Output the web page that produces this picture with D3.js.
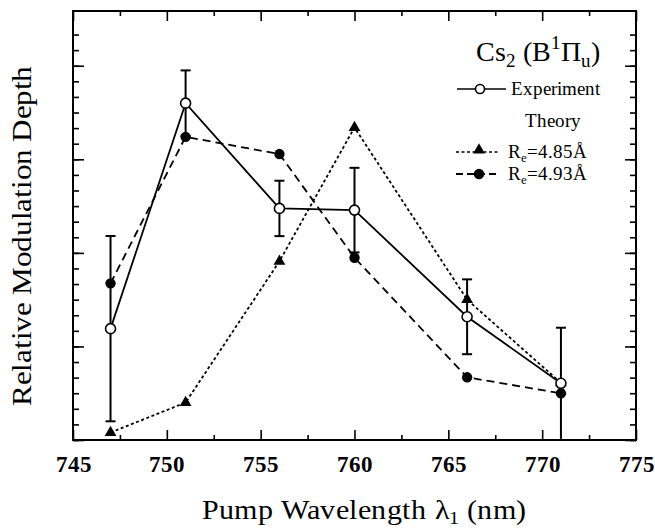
<!DOCTYPE html>
<html><head><meta charset="utf-8">
<script src="https://cdn.jsdelivr.net/npm/d3@7/dist/d3.min.js"></script>
<style>
@font-face { font-family: "RefSerif"; font-weight: normal; src: local("Liberation Serif"), local("LiberationSerif"), local("Tinos"); }
@font-face { font-family: "RefSerif"; font-weight: bold; src: local("Liberation Serif Bold"), local("LiberationSerif-Bold"), local("Tinos Bold"); }
svg text { font-family: "RefSerif", "Liberation Serif", "Times New Roman", serif !important; }
</style>
</head><body style="margin:0">
<svg id="chart" width="655" height="529"></svg>
<script>
// ---- Data ----
const wavelengths = [747, 751, 756, 760, 766, 771];
const experiment = [1.19, 3.60, 2.475, 2.457, 1.317, 0.606];
const experimentErr = [0.99, 0.35, 0.296, 0.452, 0.40, 0.594];
const theory485 = [0.08, 0.40, 1.91, 3.34, 1.50, 0.61];
const theory493 = [1.674, 3.24, 3.056, 1.948, 0.670, 0.499];
const xTicks = [745, 750, 755, 760, 765, 770, 775];
const xMinorTicks = [747.5, 752.5, 757.5, 762.5, 767.5, 772.5];
const yMajorTicks = [0, 1, 2, 3, 4];
const yMinorTicks = d3.range(0, 27).map(i => i / 6);

const FONT = "RefSerif, Liberation Serif, serif";
const svg = d3.select("#chart");
const L = 73, R = 636, T = 11, B = 440;
const x = d3.scaleLinear().domain([745, 775]).range([L, R]);
const y = d3.scaleLinear().domain([0, 4.585]).range([B, T]);

// ---- Axes ----
function styleAxis(g) {
  g.attr("font-family", FONT);
  g.select(".domain").remove();
  g.selectAll(".tick line").attr("stroke", "#000").attr("stroke-width", 1.6);
}
svg.append("g").attr("transform", `translate(0,${B})`)
  .call(d3.axisBottom(x).tickValues(xTicks).tickSizeInner(-10).tickSizeOuter(0).tickPadding(16).tickFormat(d3.format("d")))
  .call(styleAxis)
  .call(g => g.selectAll("text").attr("font-family", FONT).attr("font-size", 23)
    .attr("font-weight", "bold").attr("fill", "#000"));
svg.append("g").attr("transform", `translate(0,${B})`)
  .call(d3.axisBottom(x).tickValues(xMinorTicks).tickSizeInner(-5).tickSizeOuter(0).tickFormat(""))
  .call(styleAxis);
svg.append("g").attr("transform", `translate(0,${T})`)
  .call(d3.axisTop(x).tickValues(xTicks).tickSizeInner(-10).tickSizeOuter(0).tickFormat(""))
  .call(styleAxis);
svg.append("g").attr("transform", `translate(0,${T})`)
  .call(d3.axisTop(x).tickValues(xMinorTicks).tickSizeInner(-5).tickSizeOuter(0).tickFormat(""))
  .call(styleAxis);
svg.append("g").attr("transform", `translate(${L},0)`)
  .call(d3.axisLeft(y).tickValues(yMajorTicks).tickSizeInner(-11).tickSizeOuter(0).tickFormat(""))
  .call(styleAxis);
svg.append("g").attr("transform", `translate(${L},0)`)
  .call(d3.axisLeft(y).tickValues(yMinorTicks).tickSizeInner(-6).tickSizeOuter(0).tickFormat(""))
  .call(styleAxis);
svg.append("g").attr("transform", `translate(${R},0)`)
  .call(d3.axisRight(y).tickValues(yMajorTicks).tickSizeInner(-11).tickSizeOuter(0).tickFormat(""))
  .call(styleAxis);
svg.append("g").attr("transform", `translate(${R},0)`)
  .call(d3.axisRight(y).tickValues(yMinorTicks).tickSizeInner(-6).tickSizeOuter(0).tickFormat(""))
  .call(styleAxis);

svg.append("rect").attr("x", L).attr("y", T).attr("width", R - L).attr("height", B - T)
  .attr("fill", "none").attr("stroke", "#000").attr("stroke-width", 2);

// ---- Series ----
const line = d3.line().x(d => x(d[0])).y(d => y(d[1]));
const pts = vals => wavelengths.map((w, i) => [w, vals[i]]);

const eb = svg.append("g").attr("stroke", "#000").attr("stroke-width", 2);
wavelengths.forEach((w, i) => {
  const lo = Math.max(0, experiment[i] - experimentErr[i]);
  const hi = experiment[i] + experimentErr[i];
  eb.append("line").attr("x1", x(w)).attr("x2", x(w)).attr("y1", y(lo)).attr("y2", y(hi));
  eb.append("line").attr("x1", x(w) - 5).attr("x2", x(w) + 5).attr("y1", y(hi)).attr("y2", y(hi));
  if (experiment[i] - experimentErr[i] > 0.02)
    eb.append("line").attr("x1", x(w) - 5).attr("x2", x(w) + 5).attr("y1", y(lo)).attr("y2", y(lo));
});

svg.append("path").datum(pts(theory485)).attr("d", line)
  .attr("fill", "none").attr("stroke", "#000").attr("stroke-width", 1.8).attr("stroke-dasharray", "3,2.5");
svg.append("path").datum(pts(theory493)).attr("d", line)
  .attr("fill", "none").attr("stroke", "#000").attr("stroke-width", 1.8).attr("stroke-dasharray", "8,5");
svg.append("path").datum(pts(experiment)).attr("d", line)
  .attr("fill", "none").attr("stroke", "#000").attr("stroke-width", 1.8);

const tri = d3.symbol().type(d3.symbolTriangle).size(60);
svg.append("g").selectAll("path").data(pts(theory485)).join("path")
  .attr("d", tri).attr("transform", d => `translate(${x(d[0])},${y(d[1])})`).attr("fill", "#000");
svg.append("g").selectAll("circle").data(pts(theory493)).join("circle")
  .attr("cx", d => x(d[0])).attr("cy", d => y(d[1])).attr("r", 5.2).attr("fill", "#000");
svg.append("g").selectAll("circle").data(pts(experiment)).join("circle")
  .attr("cx", d => x(d[0])).attr("cy", d => y(d[1])).attr("r", 5).attr("fill", "#fff")
  .attr("stroke", "#000").attr("stroke-width", 1.6);

// ---- Legend ----
function txt(parent, xx, yy, size) {
  return parent.append("text").attr("x", xx).attr("y", yy)
    .attr("font-family", FONT).attr("font-size", size).attr("fill", "#000");
}
const title = txt(svg, 476, 61, 28);
title.append("tspan").text("Cs");
title.append("tspan").attr("dy", 6).attr("font-size", 19).text("2");
title.append("tspan").attr("dy", -6).text(" (B");
title.append("tspan").attr("dy", -12).attr("font-size", 19).text("1");
title.append("tspan").attr("dy", 12).text("Π");
title.append("tspan").attr("dy", 6).attr("font-size", 19).text("u");
title.append("tspan").attr("dy", -6).text(")");

const lg = svg.append("g");
lg.append("line").attr("x1", 457).attr("x2", 506).attr("y1", 89).attr("y2", 89).attr("stroke", "#000").attr("stroke-width", 1.6);
lg.append("circle").attr("cx", 480).attr("cy", 89).attr("r", 4.5).attr("fill", "#fff").attr("stroke", "#000").attr("stroke-width", 1.6);
txt(lg, 511, 95, 19).text("Experiment");
txt(lg, 553, 127, 19).attr("text-anchor", "middle").text("Theory");

lg.append("line").attr("x1", 456).attr("x2", 498).attr("y1", 152).attr("y2", 152).attr("stroke", "#000").attr("stroke-width", 1.4).attr("stroke-dasharray", "3,2.5");
lg.append("path").attr("d", tri).attr("transform", "translate(479,150)").attr("fill", "#000");
const t1 = txt(lg, 508, 158, 19);
t1.append("tspan").text("R");
t1.append("tspan").attr("dy", 4).attr("font-size", 13).text("e");
t1.append("tspan").attr("dy", -4).text("=4.85Å");

lg.append("line").attr("x1", 456).attr("x2", 498).attr("y1", 174).attr("y2", 174).attr("stroke", "#000").attr("stroke-width", 1.8).attr("stroke-dasharray", "7,4");
lg.append("circle").attr("cx", 479).attr("cy", 174).attr("r", 5.2).attr("fill", "#000");
const t2 = txt(lg, 508, 180, 19);
t2.append("tspan").text("R");
t2.append("tspan").attr("dy", 4).attr("font-size", 13).text("e");
t2.append("tspan").attr("dy", -4).text("=4.93Å");

// ---- Axis titles ----
txt(svg, -236, 31, 28).attr("transform", "rotate(-90)")
  .attr("text-anchor", "middle").attr("textLength", 340).attr("lengthAdjust", "spacingAndGlyphs")
  .text("Relative Modulation Depth");
const xl = txt(svg, 364, 519, 27).attr("text-anchor", "middle")
  .attr("textLength", 324).attr("lengthAdjust", "spacingAndGlyphs");
xl.append("tspan").text("Pump Wavelength λ");
xl.append("tspan").attr("dy", 5).attr("font-size", 18).text("1");
xl.append("tspan").attr("dy", -5).text(" (nm)");
</script>
</body></html>
